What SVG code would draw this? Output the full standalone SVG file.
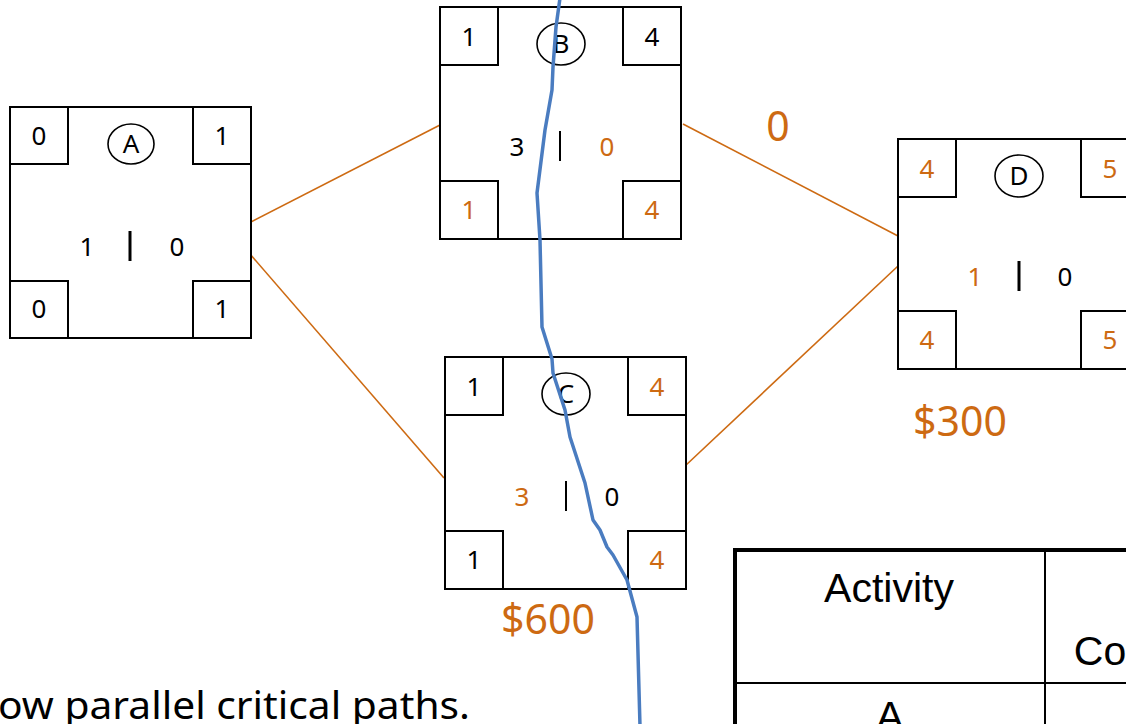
<svg xmlns="http://www.w3.org/2000/svg" width="1126" height="724" viewBox="0 0 1126 724">
<style>
.box{fill:#fff;stroke:#000;stroke-width:2}
.cb{fill:#fff;stroke:#000;stroke-width:2}
.circ{fill:none;stroke:#000;stroke-width:1.6}
.t{font-family:"Noto Sans","Open Sans",sans-serif;font-size:26px;text-anchor:middle}
.k{fill:#000}
.o{fill:#CD6A12}
.bar{stroke:#000;stroke-width:2.5}
.conn{stroke:#CD6A12;stroke-width:1.6;fill:none}
.big{font-family:"Noto Sans","Open Sans",sans-serif;font-size:41px;fill:#CD6A12;text-anchor:middle}
.tbl{font-family:"Liberation Sans",Arial,sans-serif;font-size:41px;fill:#000;text-anchor:middle}
</style>
<rect width="1126" height="724" fill="#fff"/>
<g id="connectors">
<line class="conn" x1="247" y1="224" x2="440" y2="125"/>
<line class="conn" x1="250" y1="254" x2="444" y2="478"/>
<line class="conn" x1="683" y1="124" x2="898" y2="236"/>
<line class="conn" x1="685" y1="466" x2="898" y2="266"/>
</g>
<g id="nodeA" transform="translate(10,107)">
<rect class="box" x="0" y="0" width="241" height="231"/>
<rect class="cb" x="0" y="0" width="58" height="57"/>
<rect class="cb" x="183" y="0" width="58" height="57"/>
<rect class="cb" x="0" y="174" width="58" height="57"/>
<rect class="cb" x="183" y="174" width="58" height="57"/>
<ellipse class="circ" cx="121" cy="37" rx="23" ry="20"/>
<text class="t k" x="121" y="46">A</text>
<text class="t k" x="29" y="38">0</text>
<text class="t k" x="212" y="38">1</text>
<text class="t k" x="29" y="211">0</text>
<text class="t k" x="212" y="211">1</text>
<text class="t k" x="77" y="149">1</text>
<line class="bar" x1="120" y1="124" x2="120" y2="154" style="stroke-width:3"/>
<text class="t k" x="167" y="149">0</text>
</g>
<g id="nodeB" transform="translate(440,7)">
<rect class="box" x="0" y="0" width="241" height="232"/>
<rect class="cb" x="0" y="0" width="58" height="58"/>
<rect class="cb" x="183" y="0" width="58" height="58"/>
<rect class="cb" x="0" y="174" width="58" height="58"/>
<rect class="cb" x="183" y="174" width="58" height="58"/>
<ellipse class="circ" cx="121" cy="37" rx="24" ry="21"/>
<text class="t k" x="121" y="46">B</text>
<text class="t k" x="29" y="39">1</text>
<text class="t k" x="212" y="39">4</text>
<text class="t o" x="29" y="212">1</text>
<text class="t o" x="212" y="212">4</text>
<text class="t k" x="77" y="149">3</text>
<line class="bar" x1="120" y1="124" x2="120" y2="154" style="stroke-width:2"/>
<text class="t o" x="167" y="149">0</text>
</g>
<g id="nodeC" transform="translate(445,357)">
<rect class="box" x="0" y="0" width="241" height="232"/>
<rect class="cb" x="0" y="0" width="58" height="58"/>
<rect class="cb" x="183" y="0" width="58" height="58"/>
<rect class="cb" x="0" y="174" width="58" height="58"/>
<rect class="cb" x="183" y="174" width="58" height="58"/>
<ellipse class="circ" cx="121" cy="37" rx="24" ry="21"/>
<text class="t k" x="121" y="46">C</text>
<text class="t k" x="29" y="39">1</text>
<text class="t o" x="212" y="39">4</text>
<text class="t k" x="29" y="212">1</text>
<text class="t o" x="212" y="212">4</text>
<text class="t o" x="77" y="149">3</text>
<line class="bar" x1="121" y1="124" x2="121" y2="154" style="stroke-width:2"/>
<text class="t k" x="167" y="149">0</text>
</g>
<g id="nodeD" transform="translate(898,139)">
<rect class="box" x="0" y="0" width="241" height="230"/>
<rect class="cb" x="0" y="0" width="58" height="58"/>
<rect class="cb" x="183" y="0" width="58" height="58"/>
<rect class="cb" x="0" y="172" width="58" height="58"/>
<rect class="cb" x="183" y="172" width="58" height="58"/>
<ellipse class="circ" cx="121" cy="37" rx="24" ry="21"/>
<text class="t k" x="121" y="46">D</text>
<text class="t o" x="29" y="39">4</text>
<text class="t o" x="212" y="39">5</text>
<text class="t o" x="29" y="210">4</text>
<text class="t o" x="212" y="210">5</text>
<text class="t o" x="77" y="147">1</text>
<line class="bar" x1="121" y1="122" x2="121" y2="152" style="stroke-width:3"/>
<text class="t k" x="167" y="147">0</text>
</g>
<g id="labels">
<text class="big" x="778" y="141">0</text>
<text class="big" x="548" y="634">$600</text>
<text class="big" x="960" y="436">$300</text>
</g>
<g id="table">
<line x1="735" y1="550" x2="1126" y2="550" stroke="#000" stroke-width="4"/>
<line x1="735" y1="548" x2="735" y2="724" stroke="#000" stroke-width="4"/>
<line x1="1045" y1="550" x2="1045" y2="724" stroke="#000" stroke-width="2"/>
<line x1="735" y1="683" x2="1126" y2="683" stroke="#000" stroke-width="2"/>
<text class="tbl" x="889" y="602">Activity</text>
<text class="tbl" x="1100" y="665">Co</text>
<text class="tbl" x="890" y="730">A</text>
</g>
<text x="-2" y="719" font-family="Noto Sans, Open Sans, sans-serif" font-size="38" fill="#000" textLength="472" lengthAdjust="spacingAndGlyphs">ow parallel critical paths.</text>
<path id="blueline" d="M560,-2 L556,27 L553,67 L552,90 L545,130 L537,193 L540,240 L542,327 L552,359 L553,373 L565,410 L570,437 L585,483 L593,520 L600,530 L607,547 L613,555 L627,580 L637,617 L640,726" fill="none" stroke="#4A7CC0" stroke-width="3.5" stroke-linejoin="round"/>
</svg>
